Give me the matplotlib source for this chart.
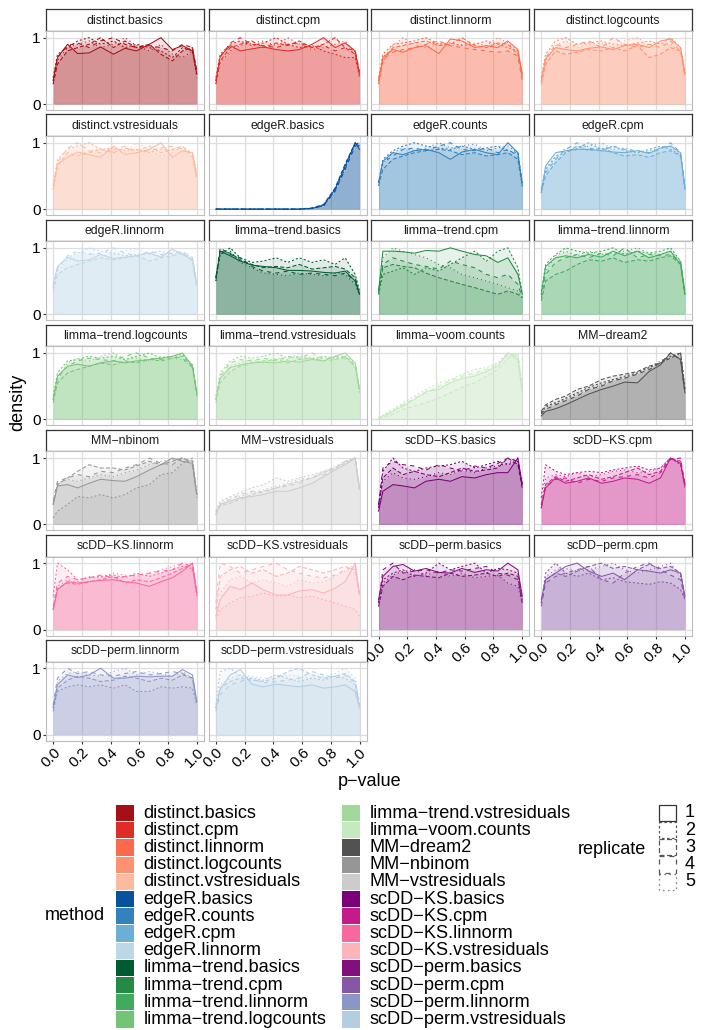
import matplotlib
matplotlib.use("Agg")
import matplotlib.pyplot as plt
from matplotlib.patches import Rectangle

plt.rcParams['font.family'] = ['Liberation Sans', 'DejaVu Sans']

# p-value positions where the scaled densities were read
p_grid = [0, .03, .1, .17, .25, .33, .42, .5, .58, .67, .75, .83, .9, .97, 1]

methods = ["distinct.basics", "distinct.cpm", "distinct.linnorm", "distinct.logcounts",
           "distinct.vstresiduals", "edgeR.basics", "edgeR.counts", "edgeR.cpm",
           "edgeR.linnorm", "limma-trend.basics", "limma-trend.cpm", "limma-trend.linnorm",
           "limma-trend.logcounts", "limma-trend.vstresiduals", "limma-voom.counts", "MM-dream2",
           "MM-nbinom", "MM-vstresiduals", "scDD-KS.basics", "scDD-KS.cpm",
           "scDD-KS.linnorm", "scDD-KS.vstresiduals", "scDD-perm.basics", "scDD-perm.cpm",
           "scDD-perm.linnorm", "scDD-perm.vstresiduals"]

colors = ["#A50F15", "#DE2D26", "#FB6A4A", "#FC9272", "#FCBBA1",
          "#08519C", "#3182BD", "#6BAED6", "#BDD7E7",
          "#005A32", "#238B45", "#41AB5D", "#74C476", "#A1D99B", "#C7E9C0",
          "#525252", "#969696", "#CCCCCC",
          "#7A0177", "#C51B8A", "#F768A1", "#FBB4B9",
          "#810F7C", "#8856A7", "#8C96C6", "#B3CDE3"]

replicates = ["1", "2", "3", "4", "5"]

# scaled density per replicate (1..5)
distinct_basics = [
    [0.35, 0.7, 0.9, 0.76, 0.77, 0.86, 0.75, 0.84, 0.8, 0.9, 1.0, 0.82, 0.88, 0.8, 0.45],
    [0.4, 0.75, 0.85, 0.95, 1.0, 0.9, 0.95, 0.85, 0.9, 0.85, 0.8, 0.7, 0.85, 0.8, 0.45],
    [0.3, 0.6, 0.8, 0.85, 0.9, 1.0, 0.85, 0.95, 0.85, 0.9, 0.75, 0.65, 0.8, 0.85, 0.5],
    [0.35, 0.7, 0.88, 0.92, 0.85, 0.95, 1.0, 0.9, 0.85, 0.88, 0.85, 0.8, 0.9, 0.85, 0.45],
    [0.3, 0.65, 0.85, 0.9, 0.95, 0.85, 0.9, 1.0, 0.88, 0.8, 0.9, 0.75, 0.7, 0.8, 0.4]]
distinct_cpm = [
    [0.35, 0.72, 0.88, 0.8, 0.83, 0.86, 0.82, 0.8, 0.82, 0.9, 1.0, 0.85, 0.92, 0.8, 0.45],
    [0.4, 0.75, 0.9, 0.95, 0.88, 0.92, 1.0, 0.9, 0.85, 0.88, 0.8, 0.75, 0.7, 0.7, 0.4],
    [0.3, 0.65, 0.85, 0.9, 0.95, 0.85, 0.92, 0.88, 0.95, 0.85, 0.9, 1.0, 0.85, 0.75, 0.45],
    [0.35, 0.7, 0.92, 1.0, 0.9, 0.88, 0.85, 0.9, 0.92, 0.85, 0.88, 0.8, 0.85, 0.8, 0.5],
    [0.3, 0.62, 0.8, 0.88, 0.92, 0.95, 0.88, 1.0, 0.9, 0.82, 0.85, 0.9, 0.95, 0.78, 0.45]]
distinct_linnorm = [
    [0.35, 0.7, 0.82, 0.78, 0.85, 0.88, 0.76, 0.98, 0.95, 0.85, 0.88, 0.85, 0.95, 0.82, 0.45],
    [0.4, 0.75, 0.9, 0.92, 0.95, 1.0, 0.9, 0.92, 0.88, 0.9, 0.95, 0.9, 0.85, 0.8, 0.4],
    [0.3, 0.65, 0.85, 0.88, 0.92, 0.95, 0.88, 0.9, 1.0, 0.88, 0.85, 0.92, 0.9, 0.75, 0.45],
    [0.35, 0.68, 0.78, 0.82, 0.85, 0.9, 0.95, 0.88, 0.85, 0.82, 0.8, 0.78, 0.8, 0.72, 0.35],
    [0.3, 0.7, 0.88, 1.0, 0.9, 0.85, 0.92, 0.88, 0.9, 0.92, 0.88, 1.0, 0.92, 0.8, 0.4]]
distinct_logcounts = [
    [0.35, 0.68, 0.85, 0.82, 0.8, 0.84, 0.86, 0.82, 0.88, 0.9, 0.85, 0.95, 0.98, 0.85, 0.45],
    [0.4, 0.75, 0.95, 1.0, 0.9, 0.92, 0.95, 0.9, 0.88, 0.92, 0.95, 0.9, 1.0, 0.85, 0.5],
    [0.3, 0.6, 0.8, 0.75, 0.78, 0.82, 0.8, 0.85, 0.8, 0.88, 0.7, 0.75, 0.85, 0.8, 0.45],
    [0.35, 0.7, 0.9, 0.85, 0.9, 0.95, 0.85, 1.0, 0.9, 0.85, 0.9, 0.85, 0.95, 0.8, 0.4],
    [0.3, 0.65, 0.88, 0.95, 0.85, 0.9, 0.92, 0.85, 0.95, 1.0, 0.88, 0.92, 0.9, 0.78, 0.5]]
distinct_vstresiduals = [
    [0.3, 0.68, 0.78, 0.86, 0.82, 0.78, 0.95, 0.82, 0.85, 0.9, 1.0, 0.78, 0.88, 0.85, 0.5],
    [0.35, 0.75, 0.9, 0.95, 1.0, 0.9, 0.92, 0.88, 0.9, 0.85, 0.9, 0.88, 0.92, 0.85, 0.55],
    [0.3, 0.65, 0.85, 0.8, 0.85, 0.9, 0.85, 0.92, 0.88, 0.95, 0.85, 0.9, 0.95, 0.8, 0.45],
    [0.35, 0.7, 0.92, 1.0, 0.88, 0.85, 0.9, 0.95, 0.85, 0.88, 0.92, 0.95, 0.9, 0.82, 0.5],
    [0.3, 0.6, 0.8, 0.82, 0.88, 0.92, 0.88, 0.85, 1.0, 0.9, 0.8, 0.85, 0.88, 0.78, 0.45]]
edgeR_basics = [
    [0, 0, 0, 0, 0, 0, 0, 0, 0, 0.01, 0.06, 0.3, 0.65, 1.0, 0.9],
    [0, 0, 0, 0, 0, 0, 0, 0, 0, 0.01, 0.05, 0.28, 0.62, 0.98, 1.0],
    [0, 0, 0, 0, 0, 0, 0, 0, 0, 0.02, 0.07, 0.32, 0.68, 1.0, 0.95],
    [0, 0, 0, 0, 0, 0, 0, 0, 0, 0.01, 0.05, 0.27, 0.6, 0.95, 1.0],
    [0, 0, 0, 0, 0, 0, 0, 0, 0, 0.01, 0.06, 0.3, 0.66, 1.0, 0.92]]
edgeR_counts = [
    [0.4, 0.72, 0.85, 0.82, 0.88, 0.9, 0.85, 0.75, 0.86, 0.9, 0.85, 0.82, 1.0, 0.85, 0.35],
    [0.4, 0.75, 0.88, 0.95, 1.0, 0.95, 0.92, 0.9, 0.95, 0.9, 0.92, 0.95, 0.88, 0.85, 0.4],
    [0.35, 0.6, 0.75, 0.8, 0.85, 0.88, 0.9, 0.88, 0.82, 0.85, 0.8, 0.82, 0.85, 0.75, 0.35],
    [0.4, 0.7, 0.8, 0.9, 0.92, 0.88, 0.95, 1.0, 0.9, 0.88, 0.92, 0.85, 0.9, 0.8, 0.4],
    [0.35, 0.68, 0.85, 0.92, 0.88, 0.92, 1.0, 0.92, 0.95, 0.98, 0.88, 0.92, 0.95, 0.85, 0.4]]
edgeR_cpm = [
    [0.25, 0.65, 0.85, 0.88, 0.9, 0.9, 0.88, 0.86, 0.85, 0.88, 0.84, 0.92, 0.95, 0.85, 0.3],
    [0.3, 0.6, 0.8, 0.85, 0.92, 1.0, 0.9, 0.95, 0.88, 0.85, 0.9, 0.95, 0.9, 0.82, 0.35],
    [0.25, 0.5, 0.7, 0.85, 0.95, 0.88, 0.92, 0.85, 0.8, 0.82, 0.78, 0.85, 0.88, 0.8, 0.3],
    [0.3, 0.55, 0.75, 0.9, 1.0, 0.92, 0.88, 0.95, 0.9, 0.88, 0.85, 0.9, 1.0, 0.85, 0.35],
    [0.25, 0.58, 0.78, 0.92, 0.88, 0.95, 1.0, 0.9, 0.92, 0.85, 0.88, 0.92, 0.95, 0.82, 0.3]]
edgeR_linnorm = [
    [0.45, 0.72, 0.86, 0.8, 0.82, 0.9, 0.84, 0.86, 0.88, 0.92, 0.86, 0.98, 0.9, 0.82, 0.45],
    [0.4, 0.7, 0.85, 0.92, 1.0, 0.95, 0.92, 0.88, 0.9, 0.92, 0.95, 0.9, 0.92, 0.85, 0.45],
    [0.35, 0.6, 0.7, 0.75, 0.8, 0.85, 0.82, 0.85, 0.88, 0.8, 0.85, 0.88, 0.92, 0.8, 0.4],
    [0.4, 0.68, 0.88, 0.95, 0.9, 0.92, 1.0, 0.92, 0.88, 0.95, 0.9, 0.92, 0.95, 0.85, 0.45],
    [0.35, 0.65, 0.82, 0.88, 0.92, 0.88, 0.9, 0.95, 1.0, 0.9, 0.88, 0.95, 0.92, 0.82, 0.4]]
limma_trend_basics = [
    [0.55, 0.95, 0.88, 0.8, 0.74, 0.72, 0.7, 0.66, 0.66, 0.65, 0.63, 0.62, 0.65, 0.5, 0.3],
    [0.55, 0.9, 1.0, 0.85, 0.78, 0.8, 0.85, 0.78, 0.85, 0.78, 0.82, 0.75, 0.85, 0.6, 0.35],
    [0.5, 0.95, 0.92, 0.82, 0.75, 0.7, 0.72, 0.7, 0.75, 0.68, 0.7, 0.72, 0.68, 0.55, 0.3],
    [0.55, 1.0, 0.9, 0.85, 0.72, 0.65, 0.62, 0.65, 0.6, 0.62, 0.6, 0.58, 0.62, 0.5, 0.3],
    [0.5, 0.9, 0.95, 0.78, 0.7, 0.62, 0.6, 0.58, 0.62, 0.6, 0.58, 0.62, 0.6, 0.45, 0.28]]
limma_trend_cpm = [
    [0.35, 0.95, 0.95, 0.94, 0.92, 0.96, 0.95, 1.0, 0.95, 0.9, 0.88, 0.78, 0.85, 0.6, 0.3],
    [0.3, 0.6, 0.65, 0.7, 0.6, 0.7, 0.65, 0.75, 0.85, 0.95, 0.8, 0.95, 1.0, 0.7, 0.3],
    [0.35, 0.7, 0.75, 0.72, 0.7, 0.62, 0.55, 0.5, 0.45, 0.4, 0.35, 0.3, 0.35, 0.3, 0.25],
    [0.3, 0.75, 0.85, 0.8, 0.75, 0.72, 0.68, 0.8, 0.75, 0.7, 0.6, 0.55, 0.6, 0.45, 0.25],
    [0.35, 0.85, 1.0, 0.95, 0.9, 0.85, 0.75, 0.7, 0.6, 0.55, 0.5, 0.45, 0.4, 0.35, 0.25]]
limma_trend_linnorm = [
    [0.3, 0.72, 0.85, 0.88, 0.85, 0.9, 0.86, 0.95, 0.88, 0.95, 0.85, 0.9, 0.95, 0.75, 0.3],
    [0.35, 0.75, 0.9, 1.0, 0.95, 0.92, 0.95, 1.0, 0.9, 0.95, 0.92, 0.95, 1.0, 0.8, 0.35],
    [0.2, 0.5, 0.6, 0.65, 0.75, 0.82, 0.8, 0.85, 0.78, 0.82, 0.8, 0.85, 0.88, 0.75, 0.3],
    [0.25, 0.6, 0.78, 0.85, 0.9, 0.85, 0.92, 0.88, 1.0, 0.85, 0.9, 0.88, 0.9, 0.78, 0.3],
    [0.3, 0.65, 0.88, 0.95, 0.88, 0.95, 0.9, 0.92, 0.95, 1.0, 0.92, 0.9, 0.95, 0.8, 0.35]]
limma_trend_logcounts = [
    [0.3, 0.65, 0.8, 0.83, 0.8, 0.85, 0.88, 0.85, 0.88, 0.9, 0.92, 0.95, 1.0, 0.8, 0.4],
    [0.35, 0.7, 0.88, 0.9, 0.95, 0.92, 0.95, 0.9, 0.95, 1.0, 0.92, 0.95, 0.98, 0.82, 0.4],
    [0.25, 0.55, 0.7, 0.75, 0.8, 0.85, 0.82, 0.88, 0.85, 0.9, 0.88, 0.92, 0.95, 0.8, 0.35],
    [0.3, 0.62, 0.8, 0.88, 0.92, 0.9, 0.88, 0.95, 1.0, 0.92, 0.9, 0.95, 0.92, 0.78, 0.4],
    [0.3, 0.6, 0.85, 0.92, 0.88, 0.95, 1.0, 0.9, 0.92, 0.88, 0.95, 0.92, 0.9, 0.78, 0.35]]
limma_trend_vstresiduals = [
    [0.3, 0.62, 0.78, 0.82, 0.85, 0.86, 0.85, 0.88, 0.86, 0.9, 0.88, 0.95, 1.0, 0.85, 0.45],
    [0.35, 0.7, 0.88, 0.95, 0.92, 0.95, 1.0, 0.92, 0.95, 0.9, 0.95, 0.92, 0.95, 0.85, 0.45],
    [0.25, 0.55, 0.72, 0.8, 0.85, 0.88, 0.9, 0.85, 0.9, 0.92, 0.88, 0.9, 0.95, 0.8, 0.4],
    [0.3, 0.65, 0.85, 0.9, 0.88, 0.92, 0.88, 0.95, 0.92, 1.0, 0.9, 0.95, 0.92, 0.82, 0.45],
    [0.3, 0.6, 0.8, 0.85, 0.9, 0.85, 0.92, 0.9, 1.0, 0.92, 0.95, 0.9, 0.92, 0.8, 0.4]]
limma_voom_counts = [
    [0.02, 0.05, 0.12, 0.2, 0.3, 0.42, 0.45, 0.55, 0.62, 0.65, 0.72, 0.8, 1.0, 0.9, 0.4],
    [0.02, 0.06, 0.15, 0.25, 0.35, 0.45, 0.55, 0.6, 0.68, 0.75, 0.78, 0.85, 1.0, 0.95, 0.45],
    [0.0, 0.03, 0.08, 0.15, 0.2, 0.25, 0.32, 0.4, 0.48, 0.55, 0.65, 0.75, 0.92, 1.0, 0.5],
    [0.02, 0.05, 0.12, 0.22, 0.32, 0.4, 0.5, 0.58, 0.65, 0.7, 0.75, 0.82, 0.98, 0.92, 0.4],
    [0.02, 0.06, 0.15, 0.22, 0.3, 0.38, 0.48, 0.55, 0.6, 0.68, 0.72, 0.85, 1.0, 0.95, 0.45]]
mm_dream2 = [
    [0.05, 0.12, 0.16, 0.22, 0.3, 0.38, 0.45, 0.5, 0.56, 0.55, 0.72, 0.82, 1.0, 0.9, 0.4],
    [0.1, 0.2, 0.25, 0.32, 0.4, 0.48, 0.55, 0.6, 0.65, 0.7, 0.78, 0.85, 0.95, 1.0, 0.45],
    [0.12, 0.22, 0.3, 0.35, 0.45, 0.5, 0.6, 0.65, 0.68, 0.72, 0.8, 0.85, 0.92, 1.0, 0.45],
    [0.08, 0.15, 0.22, 0.28, 0.35, 0.45, 0.5, 0.58, 0.62, 0.68, 0.75, 0.85, 1.0, 0.9, 0.4],
    [0.1, 0.18, 0.25, 0.3, 0.38, 0.45, 0.52, 0.6, 0.62, 0.7, 0.78, 0.88, 0.95, 1.0, 0.5]]
mm_nbinom = [
    [0.3, 0.58, 0.6, 0.55, 0.62, 0.68, 0.66, 0.65, 0.72, 0.82, 0.9, 1.0, 0.95, 0.92, 0.45],
    [0.1, 0.2, 0.3, 0.42, 0.4, 0.45, 0.4, 0.45, 0.55, 0.6, 0.75, 0.78, 0.92, 1.0, 0.45],
    [0.3, 0.6, 0.7, 0.8, 0.9, 0.85, 0.85, 0.82, 0.88, 0.95, 0.9, 0.95, 1.0, 0.95, 0.45],
    [0.35, 0.65, 0.7, 0.75, 0.72, 0.8, 0.78, 0.85, 0.9, 1.0, 0.92, 0.9, 1.0, 0.9, 0.45],
    [0.3, 0.62, 0.68, 0.65, 0.7, 0.75, 0.72, 0.78, 0.82, 0.9, 0.95, 0.98, 1.0, 0.9, 0.4]]
mm_vstresiduals = [
    [0.15, 0.3, 0.35, 0.4, 0.42, 0.45, 0.5, 0.5, 0.55, 0.62, 0.72, 0.82, 0.9, 1.0, 0.55],
    [0.2, 0.35, 0.42, 0.48, 0.55, 0.6, 0.7, 0.65, 0.7, 0.75, 0.8, 0.85, 0.95, 1.0, 0.55],
    [0.15, 0.28, 0.32, 0.38, 0.45, 0.5, 0.55, 0.6, 0.65, 0.7, 0.78, 0.85, 0.92, 1.0, 0.5],
    [0.18, 0.3, 0.38, 0.45, 0.5, 0.48, 0.55, 0.58, 0.62, 0.72, 0.75, 0.85, 0.95, 1.0, 0.55],
    [0.2, 0.32, 0.4, 0.42, 0.48, 0.52, 0.58, 0.62, 0.68, 0.7, 0.8, 0.88, 0.95, 1.0, 0.5]]
scdd_ks_basics = [
    [0.2, 0.5, 0.6, 0.58, 0.55, 0.65, 0.68, 0.65, 0.72, 0.7, 0.75, 0.78, 0.78, 1.0, 0.6],
    [0.3, 0.8, 1.0, 0.85, 0.8, 0.85, 0.88, 0.9, 0.95, 0.85, 0.9, 0.95, 0.9, 0.95, 0.6],
    [0.25, 0.7, 0.85, 0.75, 0.8, 0.75, 0.72, 0.78, 0.85, 0.8, 0.82, 0.85, 1.0, 0.9, 0.55],
    [0.3, 0.85, 0.95, 0.9, 0.88, 0.82, 0.9, 0.85, 0.8, 0.88, 0.85, 0.92, 1.0, 0.95, 0.6],
    [0.25, 0.65, 0.78, 0.7, 0.68, 0.72, 0.78, 0.75, 0.82, 0.78, 0.85, 0.88, 0.92, 1.0, 0.58]]
scdd_ks_cpm = [
    [0.25, 0.55, 0.7, 0.62, 0.65, 0.7, 0.62, 0.65, 0.7, 0.68, 0.62, 0.7, 1.0, 0.92, 0.6],
    [0.4, 0.9, 0.8, 0.75, 0.78, 0.8, 0.78, 0.82, 0.85, 0.88, 0.82, 0.85, 1.0, 0.9, 0.55],
    [0.3, 0.6, 0.72, 0.65, 0.7, 0.75, 0.68, 0.72, 0.78, 0.85, 0.75, 0.8, 1.0, 0.95, 0.6],
    [0.25, 0.58, 0.68, 0.7, 0.62, 0.68, 0.65, 0.7, 0.72, 0.75, 0.7, 0.78, 0.98, 1.0, 0.6],
    [0.3, 0.7, 0.75, 0.72, 0.78, 0.72, 0.75, 0.8, 0.82, 0.78, 0.8, 0.85, 1.0, 0.92, 0.55]]
scdd_ks_linnorm = [
    [0.3, 0.6, 0.72, 0.7, 0.72, 0.74, 0.75, 0.72, 0.7, 0.65, 0.72, 0.78, 0.88, 1.0, 0.55],
    [0.5, 1.0, 0.9, 0.75, 0.78, 0.8, 0.82, 0.78, 0.85, 0.8, 0.85, 0.9, 0.95, 0.92, 0.5],
    [0.3, 0.62, 0.7, 0.68, 0.72, 0.75, 0.8, 0.7, 0.75, 0.72, 0.78, 0.85, 0.92, 1.0, 0.55],
    [0.35, 0.7, 0.8, 0.75, 0.78, 0.82, 0.78, 0.8, 0.82, 0.85, 0.88, 0.9, 1.0, 0.95, 0.55],
    [0.3, 0.65, 0.75, 0.72, 0.8, 0.78, 0.85, 0.82, 0.8, 0.85, 0.9, 0.95, 1.0, 0.95, 0.5]]
scdd_ks_vstresiduals = [
    [0.2, 0.45, 0.65, 0.6, 0.7, 0.6, 0.52, 0.52, 0.58, 0.6, 0.55, 0.62, 0.72, 1.0, 0.55],
    [0.15, 0.3, 0.4, 0.48, 0.5, 0.55, 0.5, 0.52, 0.48, 0.5, 0.45, 0.4, 0.35, 0.3, 0.2],
    [0.3, 0.8, 0.9, 0.95, 0.85, 0.9, 0.8, 0.85, 0.95, 0.9, 0.85, 0.9, 0.95, 0.9, 0.5],
    [0.4, 1.0, 0.95, 0.85, 0.9, 0.95, 1.0, 0.9, 0.85, 0.8, 0.78, 0.82, 0.9, 0.95, 0.5],
    [0.2, 0.55, 0.75, 0.8, 0.7, 0.75, 0.7, 0.65, 0.75, 0.7, 0.72, 0.8, 0.88, 1.0, 0.55]]
scdd_perm_basics = [
    [0.45, 0.8, 0.95, 0.98, 0.88, 0.92, 0.86, 0.85, 0.92, 0.86, 0.9, 0.88, 1.0, 0.9, 0.5],
    [0.4, 0.75, 0.85, 0.9, 0.8, 0.85, 1.0, 0.9, 0.95, 1.0, 0.85, 0.92, 0.9, 0.85, 0.45],
    [0.35, 0.65, 0.8, 0.75, 0.82, 0.8, 0.78, 0.85, 0.8, 0.82, 0.85, 0.8, 0.85, 0.8, 0.4],
    [0.4, 0.9, 1.0, 0.85, 0.88, 0.9, 0.85, 0.9, 0.88, 0.92, 0.95, 0.85, 0.82, 0.75, 0.45],
    [0.35, 0.7, 0.82, 0.88, 0.9, 0.82, 0.88, 0.8, 0.85, 0.78, 0.8, 0.82, 0.7, 0.65, 0.4]]
scdd_perm_cpm = [
    [0.45, 0.75, 0.85, 0.95, 1.0, 0.88, 0.8, 0.85, 0.75, 0.9, 0.88, 0.85, 0.9, 0.85, 0.5],
    [0.4, 0.85, 1.0, 0.85, 0.8, 0.85, 0.75, 0.78, 0.72, 0.7, 0.68, 0.72, 0.7, 0.6, 0.45],
    [0.4, 0.75, 0.85, 0.8, 0.88, 0.95, 1.0, 0.92, 0.95, 0.9, 0.98, 0.92, 0.95, 0.85, 0.5],
    [0.35, 0.7, 0.8, 0.85, 0.9, 0.95, 0.75, 0.7, 0.85, 0.95, 1.0, 0.9, 0.82, 0.75, 0.45],
    [0.4, 0.8, 0.9, 0.92, 0.88, 0.9, 0.95, 1.0, 0.9, 0.85, 0.9, 0.95, 1.0, 0.8, 0.45]]
scdd_perm_linnorm = [
    [0.42, 0.75, 0.9, 0.86, 0.9, 1.0, 0.85, 0.85, 0.88, 0.87, 0.88, 0.88, 0.98, 0.9, 0.5],
    [0.4, 0.65, 0.72, 0.75, 0.72, 0.75, 0.7, 0.75, 0.65, 0.65, 0.72, 0.7, 0.72, 0.7, 0.45],
    [0.35, 0.7, 0.82, 0.88, 0.85, 0.8, 0.82, 0.88, 0.85, 0.8, 0.85, 0.82, 0.9, 0.85, 0.45],
    [0.45, 0.85, 1.0, 0.92, 0.95, 0.9, 0.88, 0.92, 0.95, 0.9, 0.92, 0.95, 0.92, 0.85, 0.5],
    [0.4, 0.8, 0.92, 0.95, 0.9, 0.88, 0.95, 1.0, 0.9, 0.95, 0.92, 0.88, 0.95, 0.85, 0.5]]
scdd_perm_vstresiduals = [
    [0.4, 0.68, 0.9, 0.98, 0.76, 0.72, 0.76, 0.74, 0.72, 0.75, 0.7, 0.72, 0.75, 0.65, 0.4],
    [0.45, 0.95, 1.0, 0.88, 0.85, 0.82, 0.9, 0.85, 0.8, 0.85, 0.82, 0.88, 0.85, 0.75, 0.45],
    [0.4, 0.7, 0.8, 0.85, 0.82, 0.8, 0.85, 0.95, 1.0, 0.9, 0.85, 0.88, 0.92, 0.8, 0.45],
    [0.35, 0.6, 0.75, 0.8, 0.85, 0.78, 0.8, 0.82, 0.85, 0.95, 0.9, 0.85, 0.9, 0.78, 0.4],
    [0.4, 0.75, 0.85, 0.9, 0.88, 0.85, 0.88, 0.9, 0.88, 0.85, 0.88, 0.92, 1.0, 0.85, 0.5]]

curves = [distinct_basics, distinct_cpm, distinct_linnorm, distinct_logcounts,
          distinct_vstresiduals, edgeR_basics, edgeR_counts, edgeR_cpm,
          edgeR_linnorm, limma_trend_basics, limma_trend_cpm, limma_trend_linnorm,
          limma_trend_logcounts, limma_trend_vstresiduals, limma_voom_counts, mm_dream2,
          mm_nbinom, mm_vstresiduals, scdd_ks_basics, scdd_ks_cpm,
          scdd_ks_linnorm, scdd_ks_vstresiduals, scdd_perm_basics, scdd_perm_cpm,
          scdd_perm_linnorm, scdd_perm_vstresiduals]

W, H = 711, 1030
fig = plt.figure(figsize=(W / 100, H / 100), dpi=100)


def box(x, y, w, h):
    # pixel box (top-left origin) -> figure fraction
    return [x / W, 1 - (y + h) / H, w / W, h / H]


def show(s):
    return s.replace('-', '\u2212')


col_x = [46, 208.7, 371.4, 534.1]
pw, ph, sh = 158, 79, 21.7
row_pitch = 105.1
top0 = 9.3
line_types = ['-', (0, (2, 2)), (0, (4, 2)), (0, (4, 4)), (0, (1, 3))]
n = len(methods)

for i in range(n):
    r, k = divmod(i, 4)
    x0 = col_x[k]
    y0 = top0 + r * row_pitch

    sax = fig.add_axes(box(x0, y0, pw, sh))
    sax.set_xticks([])
    sax.set_yticks([])
    for s in sax.spines.values():
        s.set_color('#333333')
        s.set_linewidth(0.9)
    sax.text(0.5, 0.47, show(methods[i]), ha='center', va='center',
             fontsize=8.8, color='#1A1A1A', transform=sax.transAxes)

    ax = fig.add_axes(box(x0, y0 + sh, pw, ph))
    ax.set_xlim(-0.05, 1.05)
    ax.set_ylim(-0.09, 1.1)
    ax.set_xticks([0, 0.2, 0.4, 0.6, 0.8, 1.0])
    ax.set_yticks([0, 1])
    ax.set_axisbelow(True)
    ax.grid(True, color='#DEDEDE', lw=0.9)
    for s in ax.spines.values():
        s.set_color('#BDBDBD')
        s.set_linewidth(0.8)

    for j, ys in enumerate(curves[i]):
        ax.fill_between(p_grid, 0, ys, color=colors[i], alpha=0.11, lw=0)
        ax.plot(p_grid, ys, color=colors[i], lw=0.75, ls=line_types[j])

    bottom = i + 4 >= n
    ax.tick_params(axis='x', bottom=bottom, labelbottom=bottom, length=2.5,
                   color='#333333', labelsize=11, labelcolor='black', pad=1)
    ax.tick_params(axis='y', left=(k == 0), labelleft=(k == 0), length=2.5,
                   color='#333333', labelsize=11, labelcolor='black', pad=1.5)
    if bottom:
        ax.set_xticklabels(['0.0', '0.2', '0.4', '0.6', '0.8', '1.0'],
                           rotation=45, ha='right', va='top', rotation_mode='anchor')

# axis titles and legends in pixel space
ov = fig.add_axes([0, 0, 1, 1], facecolor='none')
ov.set_xlim(0, W)
ov.set_ylim(H, 0)
ov.axis('off')

ov.text(370, 782, 'p\u2212value', ha='center', va='center', fontsize=13)
ov.text(18, 402, 'density', ha='center', va='center', rotation=90, fontsize=13)

key_w, key_h = 18, 17.2
leg_top = 804.4
ov.text(44.5, 916, 'method', ha='left', va='center', fontsize=13)
for i, m in enumerate(methods):
    c, r = divmod(i, 13)
    kx = [116, 342][c]
    ky = leg_top + r * key_h
    ov.add_patch(Rectangle((kx, ky + 0.5), key_w, key_h - 1, facecolor=colors[i],
                           edgecolor='none'))
    ov.text(kx + 27.5, ky + key_h / 2, show(m), ha='left', va='center', fontsize=13.1)

ov.text(646, 849, 'replicate', ha='right', va='center', fontsize=13)
for j, rep in enumerate(replicates):
    ky = 804 + j * 17.3
    ov.add_patch(Rectangle((658.5, ky + 0.5), 17, 16.3, facecolor='none',
                           edgecolor='#333333' if j == 0 else '#555555',
                           lw=0.9, ls=line_types[j]))
    ov.text(685, ky + 8.8, rep, ha='left', va='center', fontsize=13)

fig.savefig('out.png', dpi=100)
